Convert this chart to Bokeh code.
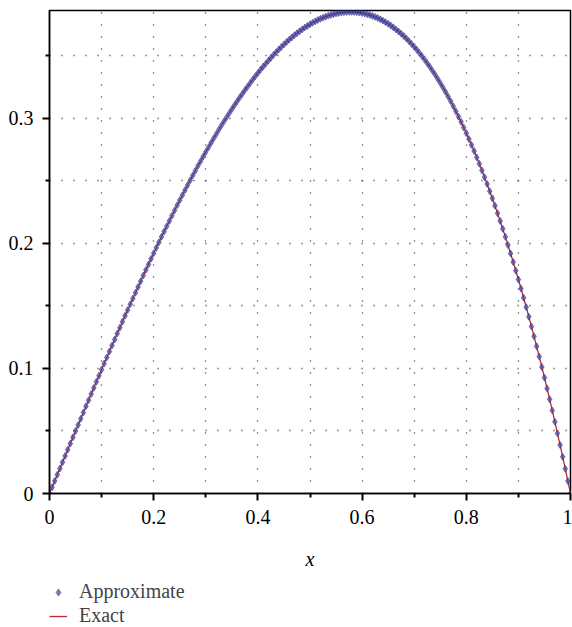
from bokeh.plotting import figure
from bokeh.models import Range1d, FixedTicker, Legend, LegendItem, ColumnDataSource
from bokeh.layouts import column
from bokeh.embed import file_html
from bokeh.resources import INLINE

x_vals = [
0.000,0.005,0.010,0.015,0.020,0.025,0.030,0.035,0.040,0.045,
0.050,0.055,0.060,0.065,0.070,0.075,0.080,0.085,0.090,0.095,
0.100,0.105,0.110,0.115,0.120,0.125,0.130,0.135,0.140,0.145,
0.150,0.155,0.160,0.165,0.170,0.175,0.180,0.185,0.190,0.195,
0.200,0.205,0.210,0.215,0.220,0.225,0.230,0.235,0.240,0.245,
0.250,0.255,0.260,0.265,0.270,0.275,0.280,0.285,0.290,0.295,
0.300,0.305,0.310,0.315,0.320,0.325,0.330,0.335,0.340,0.345,
0.350,0.355,0.360,0.365,0.370,0.375,0.380,0.385,0.390,0.395,
0.400,0.405,0.410,0.415,0.420,0.425,0.430,0.435,0.440,0.445,
0.450,0.455,0.460,0.465,0.470,0.475,0.480,0.485,0.490,0.495,
0.500,0.505,0.510,0.515,0.520,0.525,0.530,0.535,0.540,0.545,
0.550,0.555,0.560,0.565,0.570,0.575,0.580,0.585,0.590,0.595,
0.600,0.605,0.610,0.615,0.620,0.625,0.630,0.635,0.640,0.645,
0.650,0.655,0.660,0.665,0.670,0.675,0.680,0.685,0.690,0.695,
0.700,0.705,0.710,0.715,0.720,0.725,0.730,0.735,0.740,0.745,
0.750,0.755,0.760,0.765,0.770,0.775,0.780,0.785,0.790,0.795,
0.800,0.805,0.810,0.815,0.820,0.825,0.830,0.835,0.840,0.845,
0.850,0.855,0.860,0.865,0.870,0.875,0.880,0.885,0.890,0.895,
0.900,0.905,0.910,0.915,0.920,0.925,0.930,0.935,0.940,0.945,
0.950,0.955,0.960,0.965,0.970,0.975,0.980,0.985,0.990,0.995,
1.000]

approx_vals = [
0.0000,0.0050,0.0100,0.0150,0.0200,0.0250,0.0300,0.0350,0.0399,0.0449,
0.0499,0.0548,0.0598,0.0647,0.0697,0.0746,0.0795,0.0844,0.0893,0.0941,
0.0990,0.1038,0.1087,0.1135,0.1183,0.1230,0.1278,0.1325,0.1373,0.1420,
0.1466,0.1513,0.1559,0.1605,0.1651,0.1696,0.1742,0.1787,0.1831,0.1876,
0.1920,0.1964,0.2007,0.2051,0.2094,0.2136,0.2178,0.2220,0.2262,0.2303,
0.2344,0.2384,0.2424,0.2464,0.2503,0.2542,0.2580,0.2619,0.2656,0.2693,
0.2730,0.2766,0.2802,0.2837,0.2872,0.2907,0.2941,0.2974,0.3007,0.3039,
0.3071,0.3103,0.3133,0.3164,0.3193,0.3223,0.3251,0.3279,0.3307,0.3334,
0.3360,0.3386,0.3411,0.3435,0.3459,0.3482,0.3505,0.3527,0.3548,0.3569,
0.3589,0.3608,0.3627,0.3645,0.3662,0.3678,0.3694,0.3709,0.3724,0.3737,
0.3750,0.3762,0.3773,0.3784,0.3794,0.3803,0.3811,0.3819,0.3825,0.3831,
0.3836,0.3840,0.3844,0.3846,0.3848,0.3849,0.3849,0.3848,0.3846,0.3844,
0.3840,0.3836,0.3830,0.3824,0.3817,0.3809,0.3800,0.3790,0.3779,0.3767,
0.3754,0.3740,0.3725,0.3709,0.3692,0.3675,0.3656,0.3636,0.3615,0.3593,
0.3570,0.3546,0.3521,0.3495,0.3468,0.3439,0.3410,0.3379,0.3348,0.3315,
0.3281,0.3246,0.3210,0.3173,0.3135,0.3095,0.3054,0.3013,0.2970,0.2925,
0.2880,0.2833,0.2786,0.2737,0.2686,0.2635,0.2582,0.2528,0.2473,0.2416,
0.2359,0.2300,0.2239,0.2178,0.2115,0.2051,0.1985,0.1918,0.1850,0.1781,
0.1710,0.1638,0.1564,0.1489,0.1413,0.1335,0.1256,0.1176,0.1094,0.1011,
0.0926,0.0840,0.0753,0.0664,0.0573,0.0481,0.0388,0.0293,0.0197,0.0099,
0.0000]

exact_vals = list(approx_vals)

series_labels = ["Approximate", "Exact"]
y_major = [0, 0.1, 0.2, 0.3]
y_minor = [0.05, 0.15, 0.25, 0.35]
x_major = [0, 0.2, 0.4, 0.6, 0.8, 1.0]
x_minor = [0.1, 0.3, 0.5, 0.7, 0.9]

SERIF = "Liberation Serif"
LINE_STYLE = dict(line_color="#c0282d", line_width=1.3)
PT_STYLE = dict(marker="diamond", fill_color="#4646a6", fill_alpha=0.7,
                line_color="#2a2a80", line_alpha=0.85, line_width=0.6)

p = figure(width=572, height=578, output_backend="svg", toolbar_location=None,
           x_range=Range1d(0, 1), y_range=Range1d(0, 0.386),
           min_border_left=49, min_border_right=2, min_border_top=10,
           min_border_bottom=85)
p.background_fill_color = "white"
p.border_fill_color = "white"
p.outline_line_color = "black"
p.outline_line_width = 1.5

src = ColumnDataSource(dict(x=x_vals, approx=approx_vals, exact=exact_vals))

p.line("x", "exact", source=src, **LINE_STYLE)
p.scatter("x", "approx", source=src, size=7, **PT_STYLE)

for ax, maj, mnr in ((p.xaxis[0], x_major, x_minor), (p.yaxis[0], y_major, y_minor)):
    ax.ticker = FixedTicker(ticks=maj, minor_ticks=mnr)
    ax.axis_line_color = "black"
    ax.axis_line_width = 1.5
    ax.major_tick_line_color = "black"
    ax.major_tick_line_width = 2
    ax.minor_tick_line_color = "black"
    ax.minor_tick_line_width = 2
    ax.major_tick_in = 0
    ax.major_tick_out = 7
    ax.minor_tick_in = 0
    ax.minor_tick_out = 4
    ax.major_label_text_font = SERIF
    ax.major_label_text_font_size = "20px"
    ax.major_label_text_color = "black"

p.xaxis.major_label_overrides = {0: "0", 0.2: "0.2", 0.4: "0.4", 0.6: "0.6", 0.8: "0.8", 1.0: "1"}
p.yaxis.major_label_overrides = {0: "0", 0.1: "0.1", 0.2: "0.2", 0.3: "0.3"}
p.xaxis.major_label_standoff = 9
p.yaxis.major_label_standoff = 9
p.xaxis.axis_label = "x"
p.xaxis.axis_label_text_font = SERIF
p.xaxis.axis_label_text_font_style = "italic"
p.xaxis.axis_label_text_font_size = "20px"
p.xaxis.axis_label_standoff = 21
p.xaxis.axis_label_text_color = "black"

for g in (p.xgrid[0], p.ygrid[0]):
    g.grid_line_color = "#333333"
    g.grid_line_dash = "1 11"
    g.grid_line_width = 1.3
    g.minor_grid_line_color = "#333333"
    g.minor_grid_line_dash = "1 11"
    g.minor_grid_line_width = 1.3

# legend strip below the chart: its key renderers share the data but lie outside its view
lf = figure(width=572, height=49, output_backend="svg", toolbar_location=None,
            x_range=Range1d(2, 3), y_range=Range1d(2, 3),
            x_axis_location=None, y_axis_location=None,
            min_border_left=0, min_border_right=0, min_border_top=0, min_border_bottom=0)
lf.outline_line_color = None
lf.grid.visible = False
lf.background_fill_color = "white"
lf.border_fill_color = "white"
key_pts = lf.scatter("x", "approx", source=src, size=5, **PT_STYLE)
key_line = lf.line("x", "exact", source=src, **LINE_STYLE)

legend = Legend(items=[LegendItem(label=series_labels[0], renderers=[key_pts]),
                       LegendItem(label=series_labels[1], renderers=[key_line])],
                location=(0, 0), orientation="vertical",
                label_text_font=SERIF, label_text_font_size="20px",
                label_height=20, glyph_height=20, glyph_width=18,
                label_standoff=12, spacing=1, padding=0, margin=0,
                border_line_color=None, background_fill_alpha=0)
lf.add_layout(legend, "center")

layout = column(p, lf, spacing=0)
open("out.html", "w").write(file_html(layout, INLINE))
